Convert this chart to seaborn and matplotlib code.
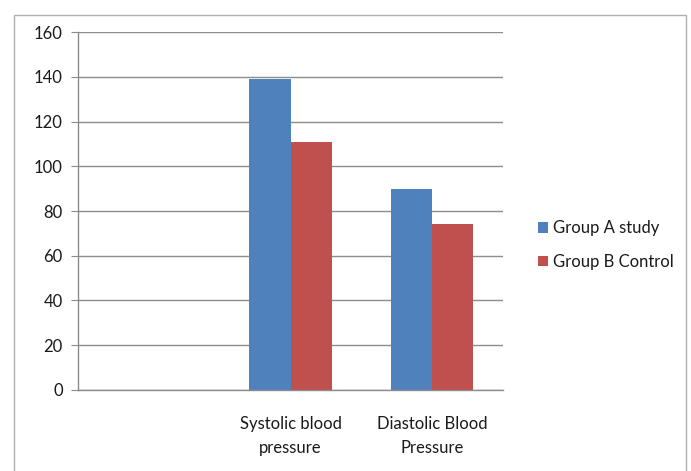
import numpy as np
import pandas as pd
import matplotlib
matplotlib.use('Agg')
import matplotlib.pyplot as plt
import seaborn as sns
from matplotlib.patches import Rectangle, Patch

# Data
categories = ['', 'Systolic blood\npressure', 'Diastolic Blood\nPressure']
group_a = [np.nan, 139, 90]
group_b = [np.nan, 111, 74]
series = ['Group A study', 'Group B Control']
colors = ['#4F81BD', '#C0504D']

df = pd.DataFrame({
    'category': categories * 2,
    'value': group_a + group_b,
    'group': [series[0]] * 3 + [series[1]] * 3,
})
df['value'] = df['value'].fillna(0)

sns.set_style('white')
plt.rcParams['font.family'] = ['Lato', 'DejaVu Sans']

fig = plt.figure(figsize=(6.91, 4.71), dpi=100)
ax = fig.add_axes([0.113, 0.172, 0.615, 0.76])

sns.barplot(data=df, x='category', y='value', hue='group', order=categories,
            hue_order=series, palette=colors, width=0.58, saturation=1,
            edgecolor='none', ax=ax, legend=False)

ax.set_ylim(0, 160)
ax.set_xlim(-0.5, 2.5)
ax.set_yticks(range(0, 161, 20))
ax.yaxis.grid(True, color='#8c8c8c', linewidth=1)
ax.set_axisbelow(True)
ax.set_xlabel('')
ax.set_ylabel('')

for side in ['top', 'right']:
    ax.spines[side].set_visible(False)
for side in ['left', 'bottom']:
    ax.spines[side].set_color('#8c8c8c')
    ax.spines[side].set_linewidth(1)

# Excel style ticks at category boundaries
ax.tick_params(axis='x', which='major', length=0, pad=19, labelsize=12, colors='#1a1a1a')
ax.set_xticks(np.arange(-0.5, 2.6, 1), minor=True)
ax.tick_params(axis='x', which='minor', length=5, color='#8c8c8c', direction='out')
ax.tick_params(axis='y', length=5, color='#8c8c8c', direction='out', labelsize=12,
               pad=6, labelcolor='#1a1a1a')
ax.tick_params(axis='y', left=True)
for lbl in ax.get_xticklabels():
    lbl.set_linespacing(1.55)

handles = [Patch(facecolor=c, edgecolor='none') for c in colors]
fig.legend(handles, series, loc='center left', bbox_to_anchor=(0.757, 0.48),
           frameon=False, fontsize=12, handlelength=0.6, handleheight=0.6,
           handletextpad=0.3, labelspacing=1.05, labelcolor='#1a1a1a')

# outer chart border
fig.add_artist(Rectangle((14 / 691, -0.05), 672 / 691, 1 - 15 / 471 + 0.05,
                         transform=fig.transFigure, fill=False,
                         edgecolor='#b0b0b0', linewidth=1))

fig.savefig('out.png', dpi=100)
